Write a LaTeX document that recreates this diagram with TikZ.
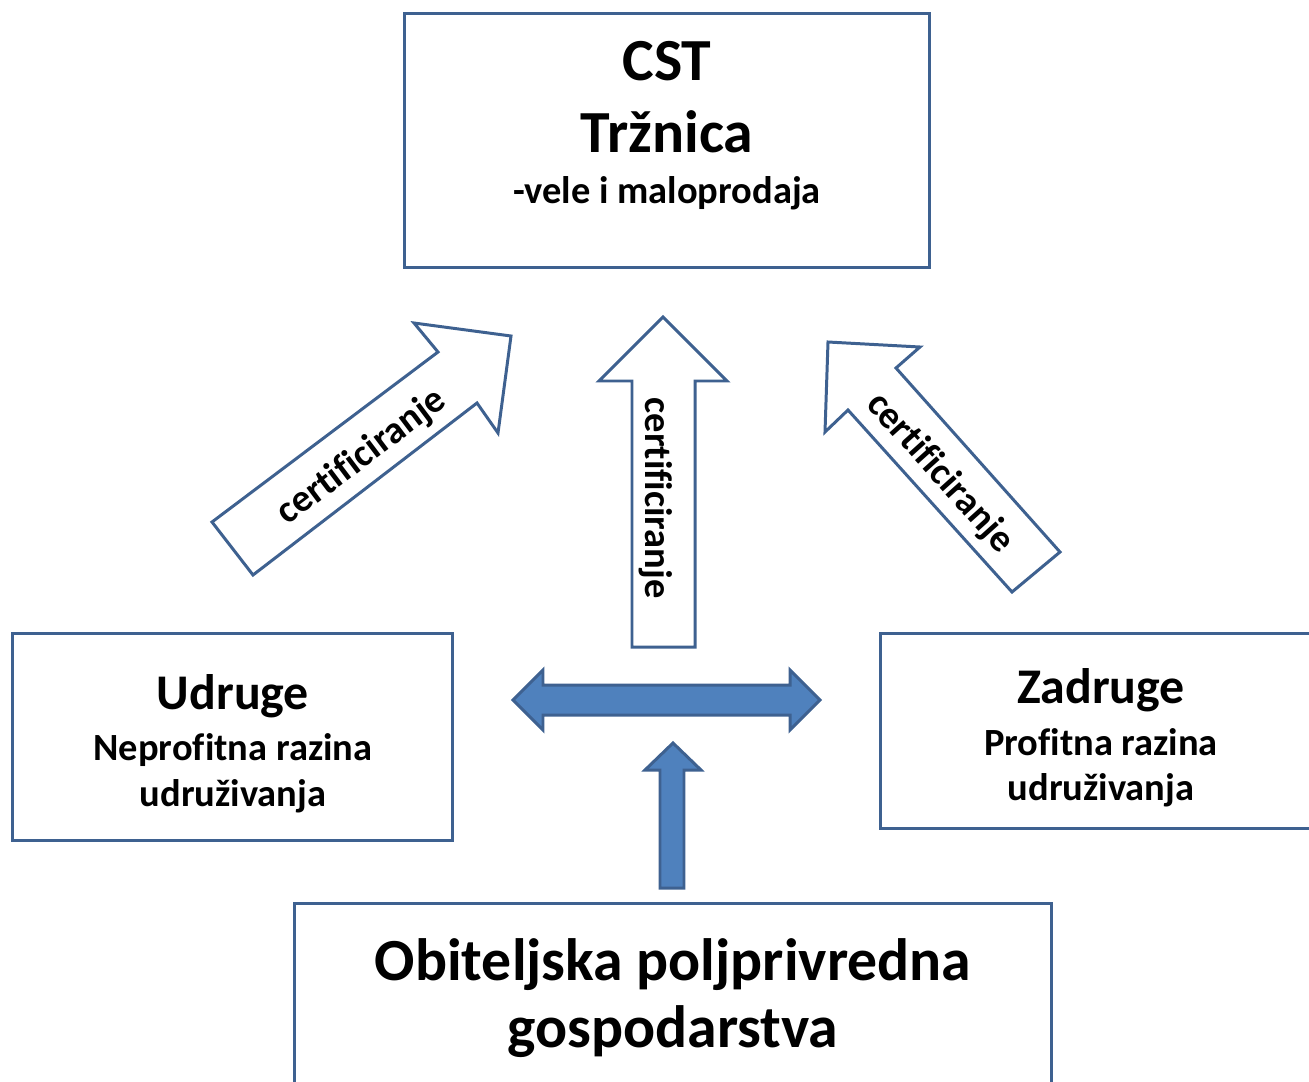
\documentclass[tikz,border=0pt]{standalone}
\usepackage{fontspec}
\setmainfont{Carlito}[Ligatures={NoCommon}]
\definecolor{edgeblue}{HTML}{3E6190}
\definecolor{fillblue}{HTML}{4F81BD}
\begin{document}
\begin{tikzpicture}[x=0.02cm,y=-0.02cm,
  boxnode/.style={draw=edgeblue, line width=1.7pt, fill=white, inner sep=0pt},
  hollow/.style={draw=edgeblue, line width=1.7pt, line join=miter, fill=white},
  solid/.style={draw=edgeblue, line width=1.7pt, line join=miter, fill=fillblue},
  big/.style={font=\fontsize{34}{40}\selectfont\bfseries, anchor=base, inner sep=0pt},
  mid/.style={font=\fontsize{28.4}{34}\selectfont\bfseries, anchor=base, inner sep=0pt},
  small/.style={font=\fontsize{21.9}{26}\selectfont\bfseries, anchor=base, inner sep=0pt},
  lbl/.style={font=\fontsize{21.9}{26}\selectfont\bfseries, inner sep=0pt}]
\useasboundingbox (0,0) rectangle (1309,1082);
\clip (0,0) rectangle (1309,1082);

% boxes
\node[boxnode, minimum width=10.52cm, minimum height=5.1cm] (cst) at (667,140.5) {};
\node[boxnode, minimum width=8.82cm, minimum height=4.16cm] (udr) at (232.5,737) {};
\node[boxnode, minimum width=9.2cm, minimum height=3.92cm] (zad) at (1110,731) {};
\node[boxnode, minimum width=15.16cm, minimum height=4.14cm] (obi) at (673,1006.5) {};

% texts
\node[big] (t1) at (667,80) {CST};
\node[big] (t2) at (667,152) {Tržnica};
\node[small] (t3) at (667,203) {-vele i maloprodaja};

\node[mid] (u1) at (233,709) {Udruge};
\node[small] (u2) at (233,760) {Neprofitna razina};
\node[small] (u3) at (233,806) {udruživanja};

\node[mid] (z1) at (1101,703) {Zadruge};
\node[small] (z2) at (1101,755) {Profitna razina};
\node[small] (z3) at (1101,800) {udruživanja};

\node[big] (o1) at (673,980) {Obiteljska poljprivredna};
\node[big] (o2) at (673,1047) {gospodarstva};

% hollow arrows
\draw[hollow] (212,522) -- (438,352) -- (414,323) -- (511,336) -- (498,433) -- (477,403) -- (253,575) -- cycle;
\draw[hollow] (663,317) -- (727,381) -- (695,381) -- (695,647) -- (632,647) -- (632,381) -- (599,381) -- cycle;
\draw[hollow] (828,342) -- (920,347) -- (896,368) -- (1060,552) -- (1012,592) -- (848,410) -- (825,432) -- cycle;

\node[lbl, rotate=37] (c1) at (362,457) {certificiranje};
\node[lbl, rotate=-90] (c2) at (656,498) {certificiranje};
\node[lbl, rotate=-48] (c3) at (940,473) {certificiranje};

% solid arrows
\draw[solid] (513,700) -- (543,670) -- (543,685) -- (790,685) -- (790,670) -- (820,700) -- (790,730) -- (790,715) -- (543,715) -- (543,730) -- cycle;
\draw[solid] (673,743) -- (701,770) -- (684,770) -- (684,888) -- (660,888) -- (660,770) -- (645,770) -- cycle;
\end{tikzpicture}
\end{document}
